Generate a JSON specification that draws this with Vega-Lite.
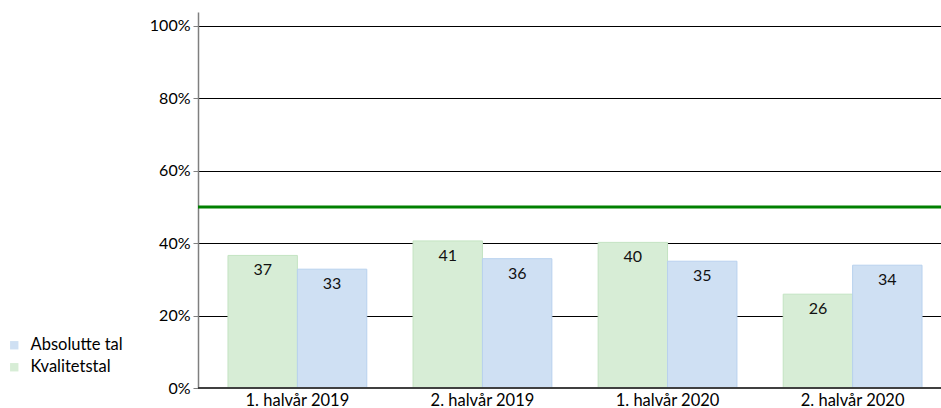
{
  "$schema": "https://vega.github.io/schema/vega-lite/v6.json",
  "autosize": "none",
  "width": 754,
  "height": 376,
  "padding": {"left": 198, "top": 12, "right": 0, "bottom": 20},
  "background": "white",
  "config": {
    "font": "Lato",
    "view": {"stroke": null}
  },
  "data": {
    "values": [
      {"period": "1. halvår 2019", "serie": "Kvalitetstal", "value": 36.6},
      {"period": "1. halvår 2019", "serie": "Absolutte tal", "value": 32.8},
      {"period": "2. halvår 2019", "serie": "Kvalitetstal", "value": 40.6},
      {"period": "2. halvår 2019", "serie": "Absolutte tal", "value": 35.7},
      {"period": "1. halvår 2020", "serie": "Kvalitetstal", "value": 40.2},
      {"period": "1. halvår 2020", "serie": "Absolutte tal", "value": 35.0},
      {"period": "2. halvår 2020", "serie": "Kvalitetstal", "value": 25.9},
      {"period": "2. halvår 2020", "serie": "Absolutte tal", "value": 33.9}
    ]
  },
  "encoding": {
    "x": {
      "field": "period", "type": "nominal", "sort": null,
      "scale": {"paddingInner": 0.25, "paddingOuter": 0.162},
      "axis": {
        "title": null, "labelAngle": 0, "labelFontSize": 16.5, "labelColor": "#000",
        "labelPadding": 4, "ticks": false, "domain": false, "grid": false
      }
    },
    "xOffset": {"field": "serie", "type": "nominal", "sort": ["Kvalitetstal", "Absolutte tal"]}
  },
  "layer": [
    {
      "mark": {"type": "bar", "strokeWidth": 1},
      "encoding": {
        "y": {
          "field": "value", "type": "quantitative",
          "scale": {"domain": [0, 103.8], "nice": false, "zero": true},
          "axis": {
            "title": null, "values": [0, 20, 40, 60, 80, 100],
            "labelExpr": "datum.value + '%'", "labelFontSize": 16, "labelColor": "#000",
            "grid": true, "gridColor": "#000", "gridWidth": 1, "gridOpacity": 1,
            "domain": true, "domainColor": "#7f7f7f", "domainWidth": 1.5,
            "tickColor": "#7f7f7f", "tickSize": 5, "tickWidth": 1, "labelPadding": 3
          }
        },
        "color": {
          "field": "serie", "type": "nominal",
          "scale": {"domain": ["Absolutte tal", "Kvalitetstal"], "range": ["#cfe0f3", "#d7edd6"]},
          "legend": {
            "title": null, "orient": "none", "legendX": -192, "legendY": 325,
            "symbolType": "square", "symbolSize": 70, "symbolStrokeWidth": 0,
            "labelFontSize": 16.5, "labelColor": "#000", "rowPadding": 5, "labelOffset": 8
          }
        },
        "stroke": {
          "field": "serie", "type": "nominal",
          "scale": {"domain": ["Absolutte tal", "Kvalitetstal"], "range": ["#b8d1ee", "#c3e3c2"]},
          "legend": null
        }
      }
    },
    {
      "mark": {"type": "text", "dy": 15, "baseline": "middle", "fontSize": 16, "color": "#111"},
      "encoding": {
        "y": {"field": "value", "type": "quantitative"},
        "text": {"field": "value", "type": "quantitative", "format": ".0f"}
      }
    },
    {
      "data": {"values": [{"target": 50}]},
      "mark": {"type": "rule", "color": "#008000", "strokeWidth": 3},
      "encoding": {"y": {"field": "target", "type": "quantitative"}, "x": {"value": 0}, "x2": {"value": 754}, "xOffset": null}
    },
    {
      "data": {"values": [{"base": 0}]},
      "mark": {"type": "rule", "color": "#404040", "strokeWidth": 2},
      "encoding": {"y": {"field": "base", "type": "quantitative"}, "x": {"value": 0}, "x2": {"value": 754}, "xOffset": null}
    }
  ]
}
